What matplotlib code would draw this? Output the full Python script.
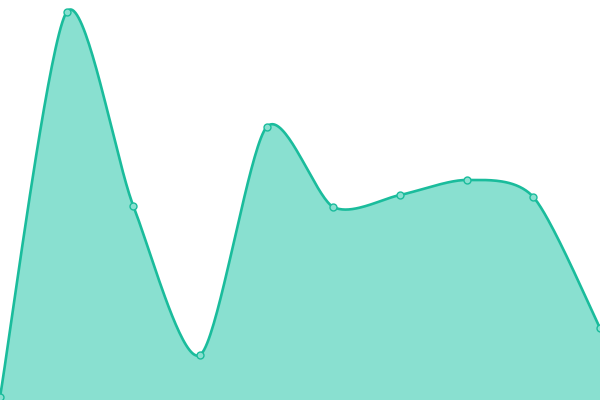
import numpy as np
import matplotlib
matplotlib.use("Agg")
import matplotlib.pyplot as plt

x_idx = list(range(10))
values = [3, 388, 194, 45, 273, 193, 205, 220, 203, 72]

def smooth_curve(xs, ys, k=0.4, n=40):
    xs = np.asarray(xs, float); ys = np.asarray(ys, float)
    px = np.concatenate([[xs[0]], xs, [xs[-1]]])
    py = np.concatenate([[ys[0]], ys, [ys[-1]]])
    ox, oy = [], []
    for i in range(1, len(px) - 2):
        t = np.linspace(0, 1, n, endpoint=False)
        for p, out in ((px, ox), (py, oy)):
            p0, p1, p2, p3 = p[i-1], p[i], p[i+1], p[i+2]
            m1 = (p2 - p0) * k
            m2 = (p3 - p1) * k
            h00 = 2*t**3 - 3*t**2 + 1
            h10 = t**3 - 2*t**2 + t
            h01 = -2*t**3 + 3*t**2
            h11 = t**3 - t**2
            out.extend(h00*p1 + h10*m1 + h01*p2 + h11*m2)
    ox.append(xs[-1]); oy.append(ys[-1])
    return np.array(ox), np.array(oy)

sx, sy = smooth_curve(x_idx, values)

fig = plt.figure(figsize=(6, 4), dpi=100)
ax = fig.add_axes([0, 0, 1, 1])
ax.fill_between(sx, sy, 0, color="#89e0d0", linewidth=0)
ax.plot(sx, sy, color="#1abc9c", linewidth=1.9, clip_on=False, solid_capstyle="round")
ax.plot(x_idx, values, linestyle="none", marker="o", markersize=5,
        markerfacecolor="#89e0d0", markeredgecolor="#1abc9c", markeredgewidth=1.0,
        clip_on=False, zorder=5)
ax.set_xlim(0, 9)
ax.set_ylim(0, 400)
ax.axis("off")
fig.savefig("out.png", dpi=100)
